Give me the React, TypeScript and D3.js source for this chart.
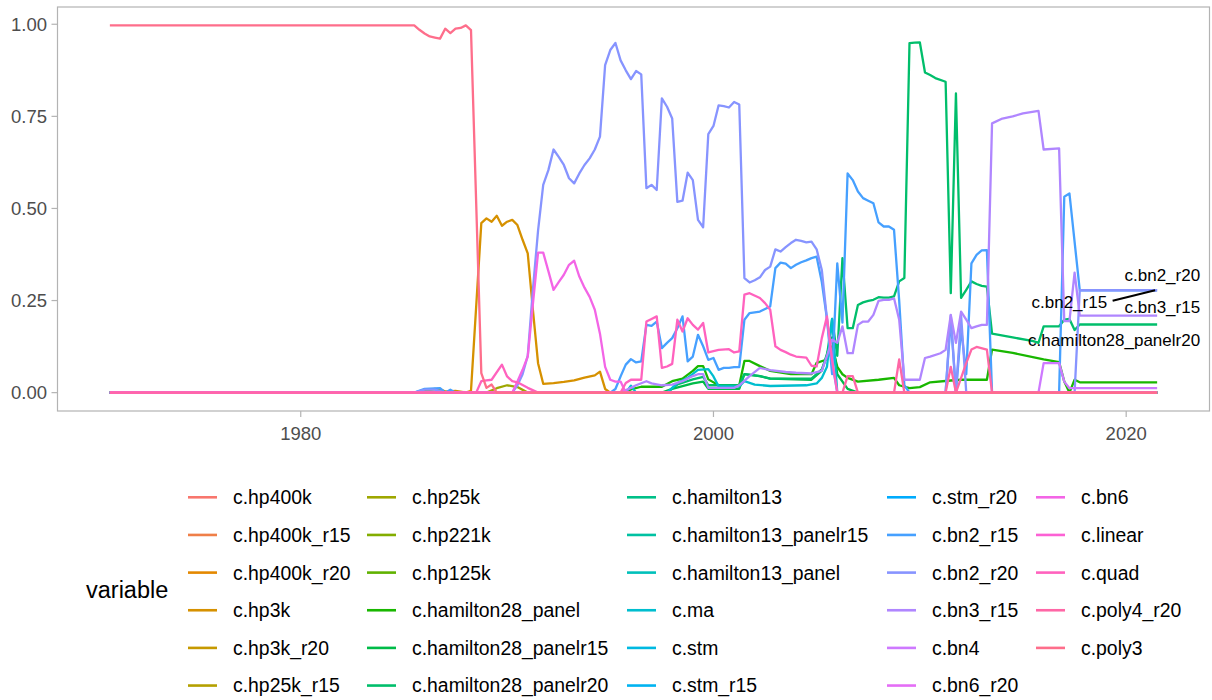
import React from 'react';
import * as d3 from 'd3';

type Pt = [number, number];

const W = 1212;
const H = 700;
const PANEL = { left: 57.5, right: 1209.5, top: 7, bottom: 411 };

const YEAR_START = 1970.75;
const YEAR_END = 2021.5;

const variables = [
  'c.hp400k', 'c.hp400k_r15', 'c.hp400k_r20', 'c.hp3k', 'c.hp3k_r20', 'c.hp25k_r15',
  'c.hp25k', 'c.hp221k', 'c.hp125k', 'c.hamilton28_panel', 'c.hamilton28_panelr15', 'c.hamilton28_panelr20',
  'c.hamilton13', 'c.hamilton13_panelr15', 'c.hamilton13_panel', 'c.ma', 'c.stm', 'c.stm_r15',
  'c.stm_r20', 'c.bn2_r15', 'c.bn2_r20', 'c.bn3_r15', 'c.bn4', 'c.bn6_r20',
  'c.bn6', 'c.linear', 'c.quad', 'c.poly4_r20', 'c.poly3',
];

const xTicks = [1980, 2000, 2020];
const yTicks = [0, 0.25, 0.5, 0.75, 1];

// Models that stay at zero for the whole sample
const zeroLine: Pt[] = [[YEAR_START, 0], [YEAR_END, 0]];

const poly3: Pt[] = [
  [1970.75, 0.997], [1985.5, 0.997], [1985.75, 0.985], [1986.0, 0.975], [1986.25, 0.967],
  [1986.5, 0.964], [1986.75, 0.961], [1987.0, 0.988], [1987.25, 0.976], [1987.5, 0.988],
  [1987.75, 0.99], [1988.0, 0.997], [1988.25, 0.984], [1988.75, 0.053], [1989.0, 0.013],
  [1989.25, 0.022], [1989.5, 0.0], [2021.5, 0.0],
];

const hp3k: Pt[] = [
  [1970.75, 0], [1985.5, 0], [1986.25, 0.008], [1986.75, 0.01], [1987.0, 0.003], [1987.5, 0.005],
  [1988.0, 0], [1988.25, 0.005], [1988.75, 0.46], [1989.0, 0.473], [1989.25, 0.464], [1989.5, 0.48],
  [1989.75, 0.453], [1990.0, 0.464], [1990.25, 0.469], [1990.5, 0.455], [1990.75, 0.415],
  [1991.0, 0.378], [1991.25, 0.225], [1991.5, 0.08], [1991.75, 0.024], [1992.25, 0.026],
  [1992.75, 0.029], [1993.25, 0.033], [1993.75, 0.041], [1994.25, 0.047], [1994.5, 0.057],
  [1994.75, 0.01], [1995.0, 0], [2021.5, 0],
];

const hp25k: Pt[] = [
  [1970.75, 0], [1985.5, 0], [1986.0, 0.005], [1986.5, 0.01], [1987.0, 0.003], [1989.0, 0],
  [1989.5, 0.012], [1990.0, 0.02], [1990.5, 0.015], [1991.0, 0], [2021.5, 0],
];

const hamilton28Panel: Pt[] = [
  [1970.75, 0], [1995.75, 0], [1996.0, 0.009], [1996.5, 0.016], [1997.5, 0.016], [1998.0, 0.031],
  [1998.5, 0.038], [1999.0, 0.059], [1999.25, 0.072], [1999.5, 0.072], [1999.75, 0.036],
  [2000.25, 0.02], [2001.25, 0.02], [2001.5, 0.086], [2001.75, 0.086], [2002.25, 0.072],
  [2002.75, 0.059], [2003.75, 0.05], [2004.75, 0.05], [2005.0, 0.081], [2005.5, 0.09],
  [2005.75, 0.126], [2006.0, 0.07], [2006.25, 0.05], [2006.5, 0.04], [2007.0, 0.03],
  [2008.0, 0.035], [2008.75, 0.04], [2009.0, 0.02], [2009.5, 0.012], [2010.0, 0.015],
  [2010.5, 0.028], [2011.5, 0.033], [2012.0, 0.035], [2013.25, 0.035], [2013.5, 0.117],
  [2014.5, 0.108], [2016.0, 0.09], [2016.75, 0.083], [2017.0, 0.03], [2017.25, 0],
  [2017.5, 0.035], [2017.75, 0.028], [2021.5, 0.028],
];

const hamilton28PanelR15: Pt[] = [
  [1970.75, 0], [1997.5, 0], [1998.0, 0.01], [1999.0, 0.025], [1999.5, 0.03], [1999.75, 0.01],
  [2001.25, 0.01], [2001.5, 0.05], [2002.25, 0.045], [2002.75, 0.038], [2004.75, 0.035],
  [2005.25, 0.06], [2005.75, 0.15], [2006.0, 0.05], [2006.5, 0.01], [2007.0, 0], [2021.5, 0],
];

const hamilton28PanelR20: Pt[] = [
  [1970.75, 0], [1997.75, 0], [1998.25, 0.022], [1999.0, 0.036], [1999.5, 0.043], [1999.75, 0.02],
  [2001.25, 0.02], [2001.5, 0.05], [2002.25, 0.045], [2002.75, 0.038], [2004.75, 0.038],
  [2005.25, 0.063], [2005.5, 0.1], [2005.75, 0.2], [2006.0, 0.1], [2006.25, 0.365],
  [2006.5, 0.175], [2006.75, 0.175], [2007.0, 0.238], [2007.25, 0.245], [2007.5, 0.249],
  [2007.75, 0.252], [2008.0, 0.259], [2008.25, 0.258], [2008.5, 0.258], [2008.75, 0.261],
  [2009.0, 0.302], [2009.25, 0.311], [2009.5, 0.949], [2009.75, 0.95], [2010.0, 0.951],
  [2010.25, 0.869], [2010.5, 0.862], [2010.75, 0.854], [2011.25, 0.844], [2011.5, 0.27],
  [2011.75, 0.812], [2012.0, 0.257], [2012.25, 0.279], [2012.5, 0.302], [2012.75, 0.295],
  [2013.0, 0.29], [2013.25, 0.288], [2013.5, 0.16], [2014.5, 0.15], [2015.5, 0.14],
  [2015.75, 0.135], [2016.0, 0.18], [2016.75, 0.18], [2017.0, 0.198], [2017.25, 0.2],
  [2017.5, 0.17], [2017.75, 0.185], [2021.5, 0.185],
];

const ma: Pt[] = [
  [1970.75, 0], [1995.75, 0], [1996.0, 0.019], [1996.25, 0], [1997.75, 0], [1998.25, 0.026],
  [1998.75, 0.04], [1999.25, 0.062], [1999.75, 0.064], [2000.0, 0.044], [2000.25, 0.017],
  [2001.25, 0.017], [2001.5, 0.031], [2002.0, 0.022], [2002.75, 0.018], [2004.5, 0.02],
  [2005.0, 0.025], [2005.25, 0.04], [2005.5, 0.07], [2005.75, 0.2], [2006.0, 0], [2021.5, 0],
];

const bn2R15: Pt[] = [
  [1970.75, 0], [1985.5, 0], [1986.0, 0.01], [1986.75, 0.012], [1987.0, 0], [1987.25, 0.008],
  [1987.5, 0], [1995.0, 0], [1995.25, 0.01], [1995.5, 0.044], [1995.75, 0.076], [1996.0, 0.091],
  [1996.25, 0.082], [1996.5, 0.085], [1996.75, 0.184], [1997.0, 0.181], [1997.25, 0.193],
  [1997.5, 0.121], [1997.75, 0.135], [1998.0, 0.148], [1998.25, 0.175], [1998.5, 0.207],
  [1998.75, 0.085], [1999.0, 0.098], [1999.25, 0.157], [1999.5, 0.126], [1999.75, 0.089],
  [2000.0, 0.094], [2000.25, 0.062], [2000.5, 0.067], [2000.75, 0.067], [2001.0, 0.069],
  [2001.25, 0.069], [2001.5, 0.198], [2001.75, 0.216], [2002.25, 0.22], [2002.75, 0.234],
  [2003.0, 0.338], [2003.25, 0.353], [2003.5, 0.35], [2003.75, 0.338], [2004.0, 0.347],
  [2004.25, 0.354], [2004.5, 0.359], [2004.75, 0.365], [2005.0, 0.369], [2005.25, 0.3],
  [2005.5, 0.2], [2005.75, 0.05], [2006.0, 0.351], [2006.25, 0.19], [2006.5, 0.595],
  [2006.75, 0.577], [2007.0, 0.546], [2007.25, 0.528], [2007.5, 0.521], [2007.75, 0.514],
  [2008.0, 0.462], [2008.25, 0.451], [2008.5, 0.451], [2008.75, 0.442], [2009.0, 0.25],
  [2009.25, 0.02], [2009.5, 0], [2011.25, 0], [2011.5, 0.2], [2011.75, 0], [2012.0, 0.175],
  [2012.25, 0.05], [2012.5, 0.351], [2012.75, 0.374], [2013.0, 0.386], [2013.25, 0.387],
  [2013.5, 0], [2016.75, 0], [2017.0, 0.532], [2017.25, 0.541], [2017.75, 0.278], [2021.5, 0.278],
];

const bn2R20: Pt[] = [
  [1970.75, 0], [1985.5, 0], [1986.0, 0.008], [1986.5, 0.008], [1987.0, 0], [1990.25, 0],
  [1990.5, 0.02], [1990.75, 0.05], [1991.0, 0.1], [1991.25, 0.28], [1991.5, 0.44], [1991.75, 0.564],
  [1992.0, 0.604], [1992.25, 0.66], [1992.5, 0.64], [1992.75, 0.618], [1993.0, 0.582],
  [1993.25, 0.568], [1993.5, 0.595], [1993.75, 0.618], [1994.0, 0.636], [1994.25, 0.66],
  [1994.5, 0.695], [1994.75, 0.889], [1995.0, 0.93], [1995.25, 0.949], [1995.5, 0.902],
  [1995.75, 0.875], [1996.0, 0.851], [1996.25, 0.873], [1996.5, 0.864], [1996.75, 0.555],
  [1997.0, 0.564], [1997.25, 0.55], [1997.5, 0.799], [1997.75, 0.776], [1998.0, 0.744],
  [1998.25, 0.518], [1998.5, 0.521], [1998.75, 0.597], [1999.0, 0.577], [1999.25, 0.469],
  [1999.5, 0.449], [1999.75, 0.702], [2000.0, 0.724], [2000.25, 0.78], [2000.5, 0.778],
  [2000.75, 0.774], [2001.0, 0.789], [2001.25, 0.782], [2001.5, 0.311], [2001.75, 0.299],
  [2002.0, 0.305], [2002.25, 0.313], [2002.5, 0.333], [2002.75, 0.342], [2003.0, 0.389],
  [2003.25, 0.383], [2003.5, 0.395], [2003.75, 0.406], [2004.0, 0.415], [2004.25, 0.412],
  [2004.5, 0.408], [2004.75, 0.41], [2005.0, 0.389], [2005.25, 0.333], [2005.5, 0.2],
  [2005.75, 0.08], [2006.0, 0], [2011.25, 0], [2011.5, 0.21], [2011.75, 0], [2012.0, 0.21],
  [2012.25, 0], [2017.5, 0], [2017.75, 0.278], [2021.5, 0.278],
];

const bn3R15: Pt[] = [
  [1970.75, 0], [1995.5, 0], [1996.0, 0.013], [1996.25, 0.02], [1996.75, 0.031], [1997.0, 0.025],
  [1997.5, 0.02], [1998.0, 0.022], [1998.5, 0.031], [1999.0, 0.045], [1999.25, 0.05],
  [1999.5, 0.05], [1999.75, 0.013], [2001.0, 0.013], [2001.25, 0.02], [2001.75, 0.045],
  [2002.25, 0.067], [2002.75, 0.061], [2003.5, 0.056], [2004.0, 0.054], [2004.75, 0.052],
  [2005.25, 0.059], [2005.5, 0.1], [2005.75, 0.144], [2006.0, 0.135], [2006.25, 0.18],
  [2006.5, 0.107], [2006.75, 0.107], [2007.0, 0.184], [2007.25, 0.193], [2007.5, 0.193],
  [2007.75, 0.211], [2008.0, 0.249], [2008.25, 0.252], [2008.5, 0.252], [2008.75, 0.256],
  [2009.0, 0.198], [2009.25, 0.035], [2009.5, 0.035], [2010.0, 0.035], [2010.25, 0.094],
  [2010.5, 0.098], [2011.0, 0.107], [2011.25, 0.116], [2011.5, 0.211], [2011.75, 0.135],
  [2012.0, 0.22], [2012.25, 0.198], [2012.5, 0.175], [2012.75, 0.18], [2013.0, 0.184],
  [2013.25, 0.184], [2013.5, 0.731], [2014.0, 0.744], [2014.5, 0.75], [2015.0, 0.758],
  [2015.75, 0.765], [2016.0, 0.66], [2016.75, 0.663], [2017.0, 0.194], [2017.25, 0.194],
  [2017.5, 0.326], [2017.75, 0.209], [2021.5, 0.209],
];

const bn4: Pt[] = [
  [1970.75, 0], [2015.75, 0], [2016.0, 0.08], [2016.75, 0.08], [2017.0, 0.03], [2017.25, 0.012],
  [2021.5, 0.012],
];

const bn6: Pt[] = [
  [1970.75, 0], [1990.25, 0], [1990.5, 0.03], [1990.75, 0.062], [1991.0, 0.098], [1991.25, 0.24],
  [1991.5, 0.38], [1991.75, 0.38], [1992.0, 0.33], [1992.25, 0.279], [1992.5, 0.3], [1992.75, 0.32],
  [1993.0, 0.347], [1993.25, 0.358], [1993.5, 0.315], [1993.75, 0.285], [1994.0, 0.26],
  [1994.25, 0.225], [1994.5, 0.16], [1994.75, 0.07], [1995.0, 0.035], [1995.25, 0.03],
  [1995.5, 0.03], [1995.75, 0], [2021.5, 0],
];

const quad: Pt[] = [
  [1970.75, 0], [1988.5, 0], [1988.75, 0.031], [1989.0, 0.033], [1989.25, 0.035], [1989.75, 0.076],
  [1990.0, 0.044], [1990.25, 0.031], [1990.5, 0.028], [1991.0, 0.013], [1991.5, 0], [1995.5, 0],
  [1995.75, 0.026], [1996.0, 0.035], [1996.5, 0.035], [1996.75, 0.193], [1997.0, 0.2],
  [1997.25, 0.207], [1997.5, 0.067], [1997.75, 0.071], [1998.0, 0.078], [1998.25, 0.198],
  [1998.5, 0.166], [1998.75, 0.202], [1999.0, 0.184], [1999.25, 0.171], [1999.5, 0.189],
  [1999.75, 0.109], [2000.25, 0.116], [2000.75, 0.118], [2001.0, 0.109], [2001.25, 0.112],
  [2001.5, 0.266], [2001.75, 0.27], [2002.25, 0.257], [2002.5, 0.243], [2002.75, 0.225],
  [2003.0, 0.126], [2003.25, 0.116], [2003.5, 0.11], [2003.75, 0.103], [2004.0, 0.098],
  [2004.5, 0.095], [2004.75, 0.073], [2005.0, 0.071], [2005.25, 0.148], [2005.5, 0.207],
  [2005.75, 0.089], [2006.0, 0], [2021.5, 0],
];

const poly4R20: Pt[] = [
  [1970.75, 0], [2006.25, 0], [2006.5, 0.045], [2006.75, 0.045], [2007.0, 0], [2008.75, 0],
  [2009.0, 0.09], [2009.25, 0], [2011.25, 0], [2011.5, 0.07], [2011.75, 0], [2012.0, 0.04],
  [2012.25, 0.08], [2012.5, 0.117], [2012.75, 0.124], [2013.25, 0.117], [2013.5, 0], [2021.5, 0],
];

// Values per model, in legend order
const seriesValues: Pt[][] = [
  zeroLine, zeroLine, zeroLine, hp3k, zeroLine, zeroLine,
  hp25k, zeroLine, zeroLine, hamilton28Panel, hamilton28PanelR15, hamilton28PanelR20,
  zeroLine, zeroLine, zeroLine, ma, zeroLine, zeroLine,
  zeroLine, bn2R15, bn2R20, bn3R15, bn4, zeroLine,
  bn6, zeroLine, quad, poly4R20, poly3,
];

// Direct labels at the end of the sample, offset from each line's last point
const endLabels: { name: string; dx: number; dy: number; segment?: boolean }[] = [
  { name: 'c.bn2_r20', dx: 43, dy: -9 },
  { name: 'c.bn2_r15', dx: -50, dy: 18, segment: true },
  { name: 'c.bn3_r15', dx: 43, dy: -3 },
  { name: 'c.hamilton28_panelr20', dx: 43, dy: 22 },
];

// Polar CIE-Luv to sRGB, same conversion as grDevices::hcl
function hcl(h: number, c: number, l: number): string {
  const WHITE_Y = 100;
  const WHITE_u = 0.1978398;
  const WHITE_v = 0.4683363;
  const hr = (h * Math.PI) / 180;
  const U = c * Math.cos(hr);
  const V = c * Math.sin(hr);
  const Y = WHITE_Y * (l > 7.999592 ? Math.pow((l + 16) / 116, 3) : l / 903.3);
  const u = U / (13 * l) + WHITE_u;
  const v = V / (13 * l) + WHITE_v;
  const X = (9.0 * Y * u) / (4 * v);
  const Z = -X / 3 - 5 * Y + (3 * Y) / v;
  const g = (t: number) => (t > 0.00304 ? 1.055 * Math.pow(t, 1 / 2.4) - 0.055 : 12.92 * t);
  const clamp = (t: number) => Math.round(255 * Math.max(0, Math.min(1, t)));
  const R = g((3.240479 * X - 1.53715 * Y - 0.498535 * Z) / WHITE_Y);
  const G = g((-0.969256 * X + 1.875992 * Y + 0.041556 * Z) / WHITE_Y);
  const B = g((0.055648 * X - 0.204043 * Y + 1.057311 * Z) / WHITE_Y);
  return d3.rgb(clamp(R), clamp(G), clamp(B)).formatHex();
}

const colors = variables.map((_, i) => hcl(15 + (360 / variables.length) * i, 100, 65));

const FONT = '"Liberation Sans", Arial, Helvetica, sans-serif';
const GREY_TEXT = '#4D4D4D';
const GREY_LINE = '#B3B3B3';

// Legend grid layout
const legendKeyX = [188, 367, 627, 887, 1036];
const legendRowY0 = 497.3;
const legendRowStep = 37.65;

export default function App() {
  const xSpan = YEAR_END - YEAR_START;
  const x = d3
    .scaleLinear()
    .domain([YEAR_START - 0.05 * xSpan, YEAR_END + 0.05 * xSpan])
    .range([PANEL.left, PANEL.right]);

  const yMax = d3.max(seriesValues.flat(), (d) => d[1]) ?? 1;
  const y = d3
    .scaleLinear()
    .domain([-0.05 * yMax, yMax * 1.05])
    .range([PANEL.bottom, PANEL.top]);

  const line = d3
    .line<Pt>()
    .x((d) => x(d[0]))
    .y((d) => y(d[1]));

  const fmt = d3.format('.2f');

  return (
    <svg
      width={W}
      height={H}
      style={{ position: 'absolute', left: 0, top: 0, background: '#fff' }}
      fontFamily={FONT}
    >
      <rect x={0} y={0} width={W} height={H} fill="#fff" />

      {/* series */}
      <g fill="none" strokeWidth={2.3} strokeLinejoin="round" strokeLinecap="butt">
        {seriesValues.map((vals, i) => (
          <path key={variables[i]} d={line(vals) ?? ''} stroke={colors[i]} />
        ))}
      </g>

      {/* end-of-sample labels */}
      <g fontSize={17} fill="#000">
        {endLabels.map((lab) => {
          const idx = variables.indexOf(lab.name);
          const vals = seriesValues[idx];
          const last = vals[vals.length - 1];
          const px = x(last[0]);
          const py = y(last[1]);
          return (
            <g key={lab.name}>
              {lab.segment && (
                <line
                  x1={px - 2}
                  y1={py}
                  x2={px + lab.dx + 5.5}
                  y2={py + lab.dy - 7.5}
                  stroke="#000"
                  strokeWidth={2}
                />
              )}
              <text x={px + lab.dx} y={py + lab.dy} textAnchor="end">
                {lab.name}
              </text>
            </g>
          );
        })}
      </g>

      {/* panel border */}
      <rect
        x={PANEL.left}
        y={PANEL.top}
        width={PANEL.right - PANEL.left}
        height={PANEL.bottom - PANEL.top}
        fill="none"
        stroke={GREY_LINE}
        strokeWidth={1.2}
      />

      {/* y axis */}
      <g>
        {yTicks.map((t) => (
          <g key={t}>
            <line x1={PANEL.left - 6} x2={PANEL.left} y1={y(t)} y2={y(t)} stroke={GREY_LINE} strokeWidth={1.2} />
            <text x={PANEL.left - 10.5} y={y(t) + 6.6} textAnchor="end" fontSize={18.5} fill={GREY_TEXT}>
              {fmt(t)}
            </text>
          </g>
        ))}
      </g>

      {/* x axis */}
      <g>
        {xTicks.map((t) => (
          <g key={t}>
            <line x1={x(t)} x2={x(t)} y1={PANEL.bottom} y2={PANEL.bottom + 6} stroke={GREY_LINE} strokeWidth={1.2} />
            <text x={x(t)} y={PANEL.bottom + 28.5} textAnchor="middle" fontSize={18.5} fill={GREY_TEXT}>
              {t}
            </text>
          </g>
        ))}
      </g>

      {/* legend */}
      <text x={86} y={legendRowY0 + 2.5 * legendRowStep + 7} fontSize={23.5} fill="#000">
        variable
      </text>
      {variables.map((name, i) => {
        const col = Math.floor(i / 6);
        const row = i % 6;
        const kx = legendKeyX[col];
        const ky = legendRowY0 + row * legendRowStep;
        return (
          <g key={name}>
            <line x1={kx} x2={kx + 29} y1={ky} y2={ky} stroke={colors[i]} strokeWidth={2.6} />
            <text x={kx + 45} y={ky + 6.9} fontSize={19.4} fill="#000">
              {name}
            </text>
          </g>
        );
      })}
    </svg>
  );
}
